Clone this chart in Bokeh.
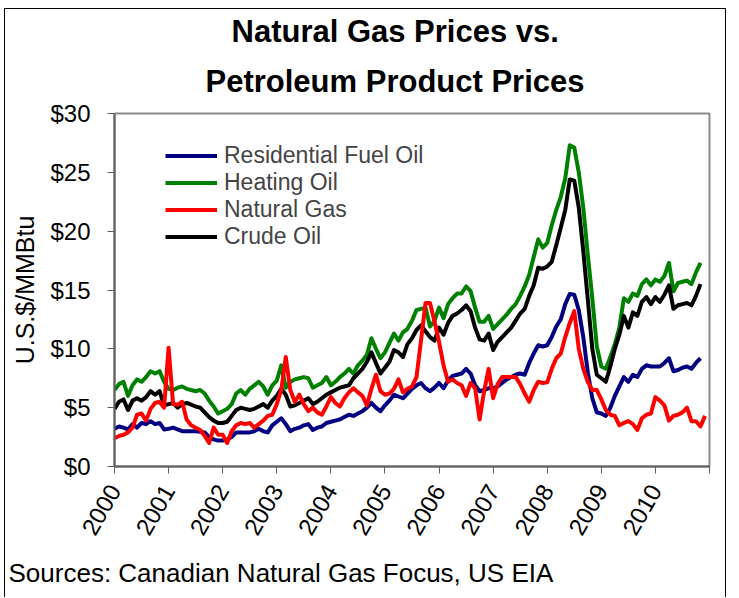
import math
from bokeh.plotting import figure
from bokeh.models import (Range1d, FixedTicker, NumeralTickFormatter, Legend,
                          LegendItem, Title)
from bokeh.embed import file_html
from bokeh.resources import INLINE

# Monthly prices, U.S.$/MMBtu, starting January 2000
residential_fuel_oil = [
    3.2, 3.4, 3.3, 3.15, 3.6, 3.3, 3.7, 3.6, 3.85, 3.6, 3.7, 3.15,
    3.2, 3.3, 3.15, 3.0, 3.0, 3.0, 3.0, 2.95, 2.9, 2.5, 2.3, 2.2,
    2.2, 2.3, 2.5, 2.9, 2.9, 2.9, 2.9, 3.0, 3.2, 3.0, 2.9, 3.5,
    3.8, 4.1, 3.6, 3.0, 3.2, 3.3, 3.5, 3.6, 3.1, 3.3, 3.4, 3.7,
    3.8, 3.9, 4.0, 4.2, 4.4, 4.3, 4.5, 4.7, 5.0, 5.4, 5.0, 4.7,
    5.2, 5.6, 6.1, 5.95, 5.8, 6.2, 6.6, 6.9, 7.1, 6.65, 6.4, 6.7,
    7.1, 6.65, 7.3, 7.7, 7.8, 7.9, 8.3, 7.9, 6.9, 6.4, 6.5, 6.65,
    6.65, 6.8, 7.1, 7.4, 7.6, 7.8, 7.9, 7.8, 8.8, 9.6, 10.3, 10.2,
    10.3, 11.0, 11.9, 12.5, 13.8, 14.66, 14.6, 13.3, 11.0, 8.0, 5.8, 4.6,
    4.5, 4.3, 5.0, 6.0, 6.8, 7.6, 7.2, 7.8, 7.6, 8.3, 8.6, 8.5,
    8.5, 8.5, 8.8, 9.2, 8.1, 8.2, 8.4, 8.5, 8.3, 8.8, 9.2,
]
heating_oil = [
    6.5, 7.0, 7.2, 6.0, 6.9, 7.4, 7.2, 7.6, 8.1, 7.9, 8.1, 7.2,
    6.6, 6.5, 6.7, 6.8, 6.6, 6.5, 6.4, 6.5, 6.2, 5.6, 5.1, 4.5,
    4.7, 4.9, 5.3, 6.2, 6.5, 6.1, 6.6, 6.9, 7.2, 6.8, 6.1, 6.9,
    7.3, 8.6, 6.7, 7.2, 7.4, 7.5, 7.6, 7.5, 6.7, 6.9, 7.1, 7.6,
    6.9, 7.2, 7.6, 7.9, 8.3, 7.9, 8.6, 9.0, 9.5, 10.9, 10.0, 9.2,
    9.7, 10.5, 11.3, 10.7, 11.4, 11.7, 12.4, 13.3, 13.4, 13.5, 11.9, 12.4,
    13.5, 12.6, 13.8, 14.3, 14.7, 14.7, 15.3, 14.9, 13.5, 12.3, 12.3, 12.8,
    11.7, 12.1, 12.5, 12.9, 13.4, 13.8, 14.5, 15.3, 16.3, 17.8, 19.3, 18.6,
    19.0, 20.5, 21.8, 22.9, 24.5, 27.3, 27.1, 25.0, 22.0, 18.0, 14.3, 10.2,
    8.5, 8.3, 9.3, 10.4, 11.8, 14.3, 14.0, 14.7, 14.5, 15.5, 15.9, 15.4,
    15.9, 15.7, 16.2, 17.3, 14.9, 15.6, 15.7, 15.8, 15.5, 16.5, 17.3,
]
natural_gas = [
    2.4, 2.6, 2.7, 2.9, 3.3, 4.4, 4.5, 3.9, 4.9, 5.4, 5.5, 5.0,
    10.1, 5.3, 5.25, 5.5, 4.0, 3.5, 3.3, 3.1, 2.6, 2.0, 3.3, 2.7,
    2.7, 2.0, 3.0, 3.5, 3.7, 3.6, 3.7, 3.3, 3.6, 3.9, 4.3, 4.4,
    5.3, 6.5, 9.3, 6.5, 5.5, 6.1, 5.3, 4.7, 5.0, 4.6, 4.4, 5.1,
    5.9, 5.4, 5.1, 5.8, 6.3, 6.65, 6.3, 6.0, 5.2, 6.6, 7.8, 6.4,
    6.1, 6.2, 6.6, 7.4, 6.3, 6.6, 6.8, 7.6, 10.7, 13.9, 13.9, 12.3,
    10.6, 8.6, 7.2, 7.4, 7.1, 6.9, 6.0, 7.1, 6.65, 4.0, 6.4, 8.3,
    5.8, 7.0, 7.6, 7.6, 7.6, 7.6, 7.0, 6.2, 5.5, 6.5, 7.2, 7.1,
    7.15, 8.3, 9.2, 9.6, 11.0, 12.2, 13.2, 10.0, 8.3, 7.2, 6.5, 6.5,
    5.7, 4.8, 4.4, 4.3, 3.5, 3.7, 3.85, 3.6, 3.1, 4.1, 4.4, 4.5,
    5.9, 5.6, 5.2, 3.9, 4.3, 4.4, 4.6, 5.0, 3.85, 3.85, 3.4, 4.3,
]
crude_oil = [
    4.9, 5.5, 5.7, 4.8, 5.6, 5.8, 5.6, 5.9, 6.4, 6.1, 6.4, 5.2,
    5.3, 5.4, 5.0, 5.3, 5.4, 5.25, 5.1, 5.0, 4.6, 4.2, 3.9, 3.7,
    3.7, 3.8, 4.3, 4.8, 5.0, 4.9, 4.8, 4.9, 5.1, 5.3, 5.0, 5.6,
    6.0, 6.6, 6.1, 5.1, 5.2, 5.4, 5.6, 5.8, 5.3, 5.5, 5.8, 6.1,
    6.3, 6.5, 6.7, 6.8, 6.9, 7.5, 7.9, 8.3, 8.9, 9.7, 8.8, 7.9,
    8.4, 8.9, 9.9, 9.7, 9.3, 10.4, 10.9, 11.6, 12.0, 11.5, 11.0, 10.7,
    11.8, 11.2, 12.2, 12.8, 13.0, 13.3, 13.7, 13.2, 11.8, 10.8, 10.7, 11.3,
    9.9, 10.6, 11.0, 11.4, 11.8, 12.4, 13.0, 13.4, 14.5, 15.4, 16.9, 16.8,
    17.0, 17.4, 18.8, 20.3, 21.8, 24.4, 24.3, 22.0, 18.3, 14.2, 10.0, 7.8,
    7.5, 7.2, 8.5, 10.0, 11.2, 12.8, 11.8, 13.1, 12.8, 14.0, 14.4, 13.8,
    14.4, 14.0, 14.6, 15.4, 13.4, 13.7, 13.8, 13.9, 13.7, 14.5, 15.5,
]
series_names = ["Residential Fuel Oil", "Heating Oil", "Natural Gas", "Crude Oil"]
series_colors = ["#000080", "#008000", "#FF0000", "#000000"]
year_ticks = list(range(2000, 2012))
price_ticks = [0, 5, 10, 15, 20, 25, 30]
title_line1 = "Natural Gas Prices vs."
title_line2 = "Petroleum Product Prices"
source_text = "Sources: Canadian Natural Gas Focus, US EIA"
y_title = "U.S.$/MMBtu"

FONT = "Liberation Sans"


def months(vals):
    return [2000 + k / 12.0 for k in range(len(vals))]


p = figure(width=722, height=589, x_range=Range1d(2000, 2011),
           y_range=Range1d(0, 30), output_backend="svg",
           toolbar_location=None, title=None,
           min_border_left=109, min_border_right=18,
           min_border_top=104, min_border_bottom=129)
p.styles = {"margin-left": "4px", "margin-top": "8px",
            "border-left": "1px solid black", "border-top": "1px solid black",
            "border-right": "1px solid black"}
p.background_fill_color = "white"
p.border_fill_color = "white"
p.xgrid.visible = False
p.ygrid.visible = False
p.outline_line_color = "#8c8c8c"
p.outline_line_width = 2

# axes
p.xaxis.ticker = FixedTicker(ticks=year_ticks)
p.xaxis.major_label_overrides = {2011: ""}
p.xaxis.major_label_orientation = math.pi / 3
p.yaxis.ticker = FixedTicker(ticks=price_ticks)
p.yaxis.formatter = NumeralTickFormatter(format="$0")
for ax in (p.xaxis, p.yaxis):
    ax.axis_line_color = "#606060"
    ax.axis_line_width = 2
    ax.major_tick_line_color = "#606060"
    ax.major_tick_line_width = 1
    ax.major_tick_out = 7
    ax.major_tick_in = 0
    ax.minor_tick_line_color = None
    ax.major_label_text_font = FONT
    ax.major_label_text_font_size = "24px"
    ax.major_label_text_color = "black"
p.xaxis.major_label_standoff = 13
p.yaxis.major_label_standoff = 17
p.yaxis.axis_label = y_title
p.yaxis.axis_label_text_font = FONT
p.yaxis.axis_label_text_font_size = "25px"
p.yaxis.axis_label_text_font_style = "normal"
p.yaxis.axis_label_text_color = "black"
p.yaxis.axis_label_standoff = 8

# series
data = [residential_fuel_oil, heating_oil, natural_gas, crude_oil]
renderers = {}
for idx in [0, 1, 3, 2]:
    vals = data[idx]
    renderers[idx] = p.line(months(vals), vals, line_color=series_colors[idx],
                            line_width=4, line_join="round")

legend = Legend(items=[LegendItem(label=series_names[k], renderers=[renderers[k]])
                       for k in range(4)],
                location=(51, 216), orientation="vertical", padding=0, margin=0,
                spacing=0, glyph_width=52, glyph_height=23, label_height=23,
                label_standoff=7, label_text_font=FONT,
                label_text_font_size="23px", border_line_color=None,
                background_fill_alpha=0)
p.add_layout(legend, "center")

# chart title: second line is added first (closest to the plot)
p.add_layout(Title(text=title_line2, align="left", offset=91, standoff=30,
                   text_font=FONT, text_font_size="31px", text_font_style="bold",
                   text_color="black"), "above")
p.add_layout(Title(text=title_line1, align="left", offset=117, standoff=-5,
                   text_font=FONT, text_font_size="31px", text_font_style="bold",
                   text_color="black"), "above")
p.add_layout(Title(text=source_text, align="left", offset=-106, standoff=22,
                   text_font=FONT, text_font_size="26px", text_font_style="normal",
                   text_color="black"), "below")

open("out.html", "w").write(file_html(p, INLINE))
